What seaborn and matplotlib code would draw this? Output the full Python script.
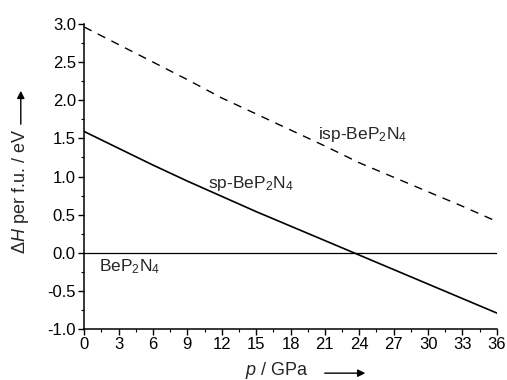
import matplotlib
matplotlib.use("Agg")
import matplotlib.pyplot as plt
import seaborn as sns
import pandas as pd
from matplotlib.ticker import MultipleLocator

# pressure in GPa, enthalpy differences in eV per formula unit
pressure = [0, 3, 6, 9, 12, 15, 18, 21, 24, 27, 30, 33, 36]
dh_isp = [2.96, 2.73, 2.50, 2.27, 2.03, 1.82, 1.61, 1.40, 1.18, 0.99, 0.80, 0.61, 0.41]
dh_sp = [1.59, 1.37, 1.15, 0.94, 0.74, 0.54, 0.35, 0.16, -0.03, -0.22, -0.41, -0.60, -0.79]
dh_ref = [0.0] * len(pressure)

df = pd.DataFrame({'p': pressure, 'isp': dh_isp, 'sp': dh_sp, 'ref': dh_ref})

sns.set_style("ticks")
plt.rcParams['font.family'] = ['Liberation Sans', 'DejaVu Sans']
plt.rcParams['mathtext.fontset'] = 'custom'
plt.rcParams['mathtext.rm'] = 'Liberation Sans'
plt.rcParams['mathtext.it'] = 'Liberation Sans:italic'

fig = plt.figure(figsize=(5.07, 3.8), dpi=100)
ax = fig.add_axes([0.166, 0.134, 0.814, 0.803])

sns.lineplot(data=df, x='p', y='ref', ax=ax, color='black', lw=0.9)
sns.lineplot(data=df, x='p', y='sp', ax=ax, color='black', lw=1.2)
sns.lineplot(data=df, x='p', y='isp', ax=ax, color='black', lw=1.0, dashes=False)
ax.lines[-1].set_dashes((6, 5))

ax.set_xlim(0, 36)
ax.set_ylim(-1.0, 3.0)
ax.xaxis.set_major_locator(MultipleLocator(3))
ax.xaxis.set_minor_locator(MultipleLocator(1.5))
ax.yaxis.set_major_locator(MultipleLocator(0.5))
ax.yaxis.set_minor_locator(MultipleLocator(0.25))
ax.yaxis.set_major_formatter(lambda v, pos: f"{v:.1f}")
ax.tick_params(which='major', direction='out', length=4, width=1, labelsize=12, pad=2,
               color='black', labelcolor='black')
ax.tick_params(which='minor', direction='out', length=2.5, width=0.8, color='black')
for s in ['top', 'right']:
    ax.spines[s].set_visible(False)
for s in ['left', 'bottom']:
    ax.spines[s].set_linewidth(1.1)
    ax.spines[s].set_color('black')
ax.set_xlabel('')
ax.set_ylabel('')

ax.text(20.4, 1.49, r"isp-BeP$_2$N$_4$", fontsize=12.5, va='baseline')
ax.text(10.8, 0.855, r"sp-BeP$_2$N$_4$", fontsize=12.5, va='baseline')
ax.text(1.33, -0.246, r"BeP$_2$N$_4$", fontsize=12.5, va='baseline')

# axis titles with arrows
fig.text(0.041, 0.495, r"Δ$\mathit{H}$ per f.u. / eV", rotation=90, ha='center', va='center', fontsize=13)
ax.annotate('', xy=(0.041, 1 - 88 / 380), xytext=(0.041, 1 - 127 / 380), xycoords='figure fraction',
            arrowprops=dict(arrowstyle='-|>', lw=1, color='black', mutation_scale=11))
fig.text(0.545, 0.024, r"$\mathit{p}$ / GPa", ha='center', va='center', fontsize=13)
ax.annotate('', xy=(0.726, 0.018), xytext=(0.635, 0.018), xycoords='figure fraction',
            arrowprops=dict(arrowstyle='-|>', lw=1, color='black', mutation_scale=11))

plt.savefig('out.png', dpi=100)
